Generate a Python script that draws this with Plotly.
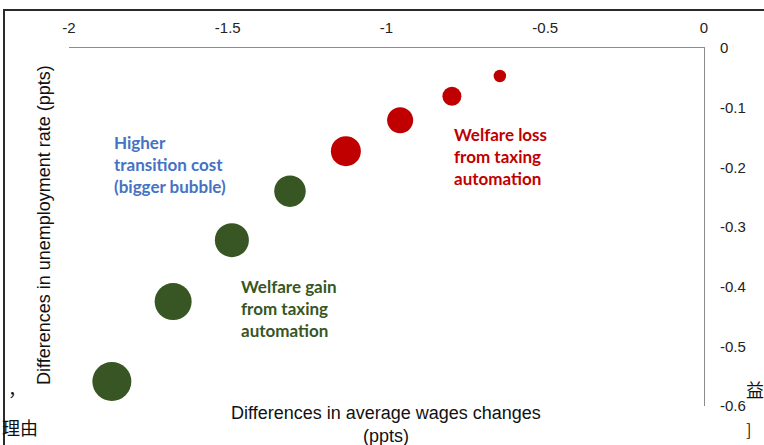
import plotly.graph_objects as go

# Data
wage_diff = [-0.643, -0.794, -0.957, -1.128, -1.304, -1.487, -1.672, -1.865]
unemp_diff = [-0.047, -0.081, -0.121, -0.173, -0.240, -0.322, -0.425, -0.559]
transition_cost = [12.5, 19, 26, 30, 31.5, 34, 37, 39]
outcome = ["loss", "loss", "loss", "loss", "gain", "gain", "gain", "gain"]

x_ticks = [-2, -1.5, -1, -0.5, 0]
x_tick_labels = ["-2", "-1.5", "-1", "-0.5", "0"]
y_ticks = [0, -0.1, -0.2, -0.3, -0.4, -0.5, -0.6]
y_tick_labels = ["0", "-0.1", "-0.2", "-0.3", "-0.4", "-0.5", "-0.6"]

RED = "#C00000"
GREEN = "#375623"
BLUE = "#4472C4"
AXIS = "#8C8C8C"

colors = [RED if o == "loss" else GREEN for o in outcome]

fig = go.Figure()
fig.add_trace(go.Scatter(
    x=wage_diff, y=unemp_diff, mode="markers",
    marker=dict(size=transition_cost, sizemode="diameter", sizeref=1,
                color=colors, opacity=1, line=dict(width=0)),
    hoverinfo="x+y", showlegend=False,
))

fig.update_layout(
    width=764, height=445,
    margin=dict(l=69, r=60, t=48, b=39),
    paper_bgcolor="white", plot_bgcolor="white",
    font=dict(family="Liberation Sans, Arial", size=15, color="#222222"),
    xaxis=dict(range=[-2, 0], side="top", showgrid=False, zeroline=False,
               showline=True, linecolor=AXIS, linewidth=1, ticks="",
               tickvals=x_ticks, ticktext=x_tick_labels, ticklabelstandoff=8,
               tickfont=dict(size=15, color="#222222")),
    yaxis=dict(range=[-0.6, 0], side="right", showgrid=False, zeroline=False,
               showline=True, linecolor=AXIS, linewidth=1, ticks="",
               tickvals=y_ticks, ticktext=y_tick_labels, ticklabelstandoff=12,
               tickfont=dict(size=15, color="#222222")),
)

def px_x(p):
    return (p - 69) / 635.0

def px_y(p):
    return (406 - p) / 358.0

# Axis titles
fig.add_annotation(text="Differences in average wages changes<br>(ppts)",
                   xref="paper", yref="paper", x=px_x(386), y=px_y(401),
                   xanchor="center", yanchor="top", showarrow=False,
                   font=dict(family="Liberation Sans, Arial", size=18, color="#111111"))
fig.add_annotation(text="Differences in unemployment rate (ppts)",
                   xref="paper", yref="paper", x=px_x(44), y=px_y(225),
                   xanchor="center", yanchor="middle", textangle=-90, showarrow=False,
                   font=dict(family="Liberation Sans, Arial", size=18, color="#111111"))

# Bold labels in the plot
def label(lines, left, top, color):
    for i, t in enumerate(lines):
        fig.add_annotation(text="<b>" + t + "</b>", xref="paper", yref="paper",
                           x=px_x(left), y=px_y(top + 22.3 * i),
                           xanchor="left", yanchor="middle", showarrow=False,
                           font=dict(family="Lato, Open Sans", size=17, color=color))

label(["Higher", "transition cost", "(bigger bubble)"], 112, 142, BLUE)
label(["Welfare gain", "from taxing", "automation"], 239, 286, GREEN)
label(["Welfare loss", "from taxing", "automation"], 452, 134, RED)

# Document frame (top and left edges) around the embedded chart
fig.add_shape(type="rect", xref="paper", yref="paper",
              x0=px_x(4), x1=px_x(790), y0=px_y(470), y1=px_y(10),
              line=dict(color="#2a2a2a", width=2), fillcolor="rgba(0,0,0,0)",
              layer="above")

# Stray document text fragments at the edges
frag_font = dict(family="Noto Sans CJK SC", size=18, color="#111111")
fig.add_annotation(text="，", xref="paper", yref="paper", x=px_x(6), y=px_y(388),
                   xanchor="left", yanchor="middle", showarrow=False, font=frag_font)
fig.add_annotation(text="理由", xref="paper", yref="paper", x=px_x(0), y=px_y(427),
                   xanchor="left", yanchor="middle", showarrow=False, font=frag_font)
fig.add_annotation(text="益", xref="paper", yref="paper", x=px_x(744), y=px_y(389),
                   xanchor="left", yanchor="middle", showarrow=False, font=frag_font)
fig.add_annotation(text="]", xref="paper", yref="paper", x=px_x(744), y=px_y(429),
                   xanchor="left", yanchor="middle", showarrow=False,
                   font=dict(family="Noto Sans CJK SC", size=16, color="#111111"))

fig.write_html("out.html", config={"displayModeBar": False},
               post_script="document.body.style.margin='0';")
